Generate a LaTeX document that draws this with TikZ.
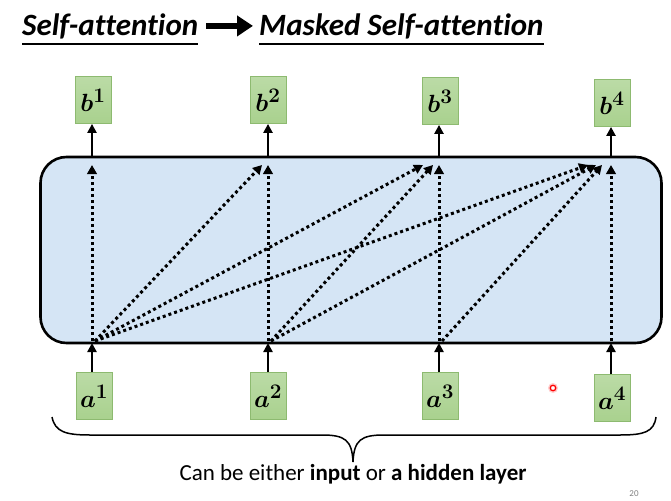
\documentclass[tikz,border=0pt]{standalone}
\usepackage{fontspec}
\setmainfont{Carlito}[Ligatures=NoCommon]
\usepackage{bm}
\usetikzlibrary{arrows.meta,calc}
\definecolor{boxblue}{HTML}{D5E5F5}
\definecolor{greenfill}{HTML}{A9D18E}
\definecolor{greentop}{HTML}{BBDBA6}
\definecolor{greenedge}{HTML}{8DBA70}
\tikzset{
  vec/.style={draw=greenedge, line width=0.8pt, top color=greentop, bottom color=greenfill,
    minimum width=36pt, minimum height=47pt, inner sep=0pt, font=\fontsize{30}{34}\selectfont},
  solidarrow/.style={line width=2.6pt, -{Triangle[length=9pt,width=9pt]}},
  dotarrow/.style={line width=3pt, dash pattern=on 3pt off 3pt, -{Triangle[length=9pt,width=9.5pt]}},
  layerbox/.style={draw=black, line width=2.6pt, fill=boxblue, rounded corners=26pt,
    minimum width=621pt, minimum height=186pt},
  titletext/.style={font=\fontsize{31}{36}\selectfont\bfseries\itshape, inner sep=0pt}
}
\begin{document}
\begin{tikzpicture}[x=1pt,y=-1pt]
\useasboundingbox (0,0) rectangle (671,500);
% title
\node[titletext, anchor=base west] (t1) at (22,36) {Self-attention};
\node[titletext, anchor=base west] (t2) at (259,36) {Masked Self-attention};
\draw[line width=1.1pt] ([yshift=-8pt]t1.base west) -- ([yshift=-8pt]t1.base east);
\draw[line width=1.1pt] ([yshift=-8pt]t2.base west) -- ([yshift=-8pt]t2.base east);
\draw[line width=6pt, -{Triangle[length=16pt,width=20pt]}] ([xshift=8pt,yshift=1pt]t1.east) -- ([xshift=-6pt,yshift=1pt]t2.west);
% layer box
\node[layerbox] (box) at (351,250) {};
% outputs
\node[vec] (b1) at (93,100) {$\bm{b^{1}}$};
\node[vec] (b2) at (268,100) {$\bm{b^{2}}$};
\node[vec] (b3) at (440,101) {$\bm{b^{3}}$};
\node[vec] (b4) at (612,103) {$\bm{b^{4}}$};
% inputs
\node[vec] (a1) at (94,396) {$\bm{a^{1}}$};
\node[vec] (a2) at (268,396) {$\bm{a^{2}}$};
\node[vec] (a3) at (440,396) {$\bm{a^{3}}$};
\node[vec] (a4) at (612,398) {$\bm{a^{4}}$};
% solid arrows
\foreach \i/\x in {1/92,2/268,3/439,4/611}{
  \coordinate (bt\i) at (\x,157);
  \coordinate (bb\i) at (\x,343);
  \coordinate (top\i) at (\x,165);
  \coordinate (bot\i) at (\x,341);
  \draw[solidarrow] (bt\i) -- (b\i.south -| bt\i);
  \draw[solidarrow] (a\i.north -| bb\i) -- (bb\i);
}
% dotted arrows
\foreach \i in {1,2,3,4}{
  \draw[dotarrow] (bot\i) -- (top\i);
}
\foreach \i/\j/\o in {1/2/6,1/3/16,2/3/6,1/4/23,2/4/15,3/4/9}{
  \draw[dotarrow] ([xshift=3pt]bot\i) -- ([xshift=-\o pt]top\j);
}
% brace
\coordinate (brL) at (52,417);
\coordinate (brR) at (656,417);
\coordinate (brT) at (353,462);
\draw[line width=1.5pt] (brL) .. controls (55,432) and (66,435) .. (90,435) -- (322,435)
  .. controls (345,435) and (352,440) .. (brT)
  .. controls (354,440) and (361,435) .. (384,435) -- (620,435)
  .. controls (644,435) and (654,432) .. (brR);
% caption
\node[font=\fontsize{23}{27}\selectfont] (cap) at (353,474) {Can be either \textbf{input} or \textbf{a hidden layer}};
% pointer dot and page number
\node[circle, fill=red!20, minimum size=10pt, inner sep=0pt] (dot) at (553,388) {};
\node[circle, draw=red, line width=1.3pt, fill=white, minimum size=5.5pt, inner sep=0pt] at (dot) {};
\node[font=\fontsize{9}{10}\selectfont, text=gray, anchor=south] (pg) at (634,500) {20};
\end{tikzpicture}
\end{document}
